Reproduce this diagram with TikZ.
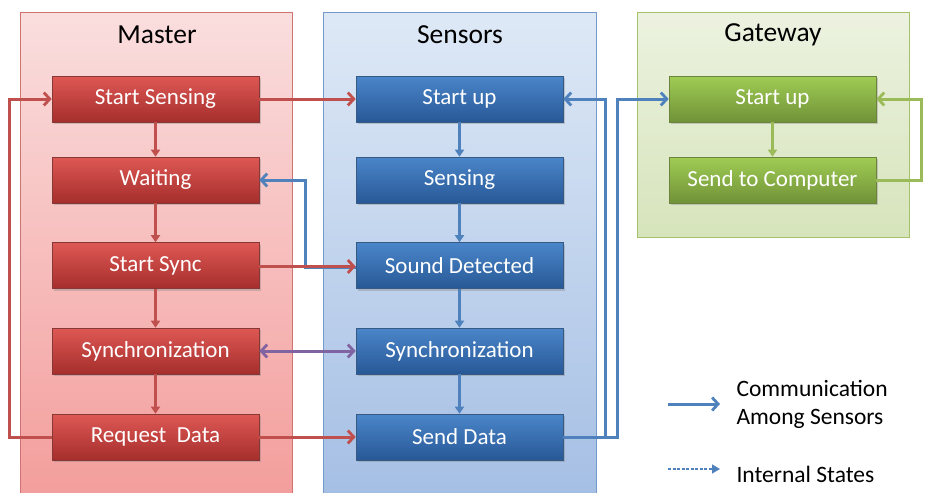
\documentclass[tikz,border=0pt]{standalone}
\usepackage{fontspec}
\setmainfont{Carlito}
\usetikzlibrary{arrows.meta,shadows}

\definecolor{mred}{RGB}{192,80,77}
\definecolor{mblue}{RGB}{79,129,189}
\definecolor{mgreen}{RGB}{155,187,89}
\definecolor{mpurple}{RGB}{128,100,162}

\tikzset{
  panel/.style={draw=#1, line width=1pt, anchor=north west, inner sep=0pt},
  title/.style={font=\fontsize{27.5}{30}\selectfont, text=black},
  statebox/.style={minimum width=207pt, minimum height=46pt, inner sep=0pt,
    draw=#1!70!black, line width=0.6pt, text=white,
    font=\fontsize{23}{26}\selectfont,
    drop shadow={shadow xshift=1.5pt, shadow yshift=-2pt, opacity=0.35}},
  rbox/.style={statebox=mred, top color={rgb,255:red,222;green,88;blue,84}, bottom color={rgb,255:red,165;green,46;blue,44}},
  bbox/.style={statebox=mblue, top color={rgb,255:red,74;green,134;blue,202}, bottom color={rgb,255:red,40;green,88;blue,150}},
  gbox/.style={statebox=mgreen, top color={rgb,255:red,160;green,204;blue,84}, bottom color={rgb,255:red,112;green,146;blue,56}},
  conn/.style={draw=#1, line width=3pt, -{Straight Barb[length=6pt,width=13pt,line width=2.8pt]}},
  inner/.style={draw=#1, line width=3pt, -{Triangle[length=7pt,width=9pt]}},
  legtext/.style={anchor=west, align=left, font=\fontsize{23.5}{28}\selectfont, text=black}
}

\begin{document}
\begin{tikzpicture}[x=1pt,y=-1pt]
\useasboundingbox (0,0) rectangle (930,493);

% column panels
\node[panel=mred!80, minimum width=272pt, minimum height=482pt,
  top color={rgb,255:red,250;green,222;blue,222}, bottom color={rgb,255:red,243;green,158;blue,156}]
  (mpanel) at (20,12) {};
\node[panel=mblue!80, minimum width=273pt, minimum height=482pt,
  top color={rgb,255:red,222;green,233;blue,246}, bottom color={rgb,255:red,165;green,191;blue,228}]
  (spanel) at (323,12) {};
\node[panel=mgreen!90, minimum width=272pt, minimum height=225pt,
  top color={rgb,255:red,236;green,242;blue,224}, bottom color={rgb,255:red,214;green,228;blue,187}]
  (gpanel) at (637,12) {};

\node[title] (mtitle) at (157,35) {Master};
\node[title] (stitle) at (460,35) {Sensors};
\node[title] (gtitle) at (773,35) {Gateway};

% master states
\node[rbox] (ss) at (155.5,99) {Start Sensing};
\node[rbox] (wt) at (155.5,180) {Waiting};
\node[rbox] (sy) at (155.5,265.5) {Start Sync};
\node[rbox] (ms) at (155.5,351) {Synchronization};
\node[rbox] (rd) at (155.5,437) {Request~ Data};

% sensor states
\node[bbox] (su) at (459.5,99) {Start up};
\node[bbox] (se) at (459.5,180) {Sensing};
\node[bbox] (sd) at (459.5,265.5) {Sound Detected};
\node[bbox] (ssy) at (459.5,351) {Synchronization};
\node[bbox] (snd) at (459.5,437) {Send Data};

% gateway states
\node[gbox] (gsu) at (772.5,99) {Start up};
\node[gbox] (gsc) at (772.5,180) {Send to Computer};

% internal transitions
\draw[inner=mred] (ss) -- (wt);
\draw[inner=mred] (wt) -- (sy);
\draw[inner=mred] (sy) -- (ms);
\draw[inner=mred] (ms) -- (rd);
\draw[inner=mblue] (su) -- (se);
\draw[inner=mblue] (se) -- (sd);
\draw[inner=mblue] (sd) -- (ssy);
\draw[inner=mblue] (ssy) -- (snd);
\draw[inner=mgreen] (gsu) -- (gsc);

% communication
\draw[conn=mblue] ([yshift=-1.5pt]sd.west) -- ++(-50,0) |- (wt.east);
\draw[conn=mred] (rd.west) -- ++(-42,0) |- (ss.west);
\draw[conn=mred] (ss.east) -- (su.west);
\draw[conn=mred] ([yshift=-1pt]sy.east) -- ([yshift=-1pt]sd.west);
\draw[conn=mpurple, {Straight Barb[length=6pt,width=13pt,line width=2.8pt]}-{Straight Barb[length=6pt,width=13pt,line width=2.8pt]}] (ms.east) -- (ssy.west);
\draw[conn=mred] (rd.east) -- (snd.west);
\draw[conn=mblue] (snd.east) -- ++(42,0) |- (su.east);
\draw[conn=mblue] (snd.east) -- ++(54,0) |- (gsu.west);
\draw[conn=mgreen] (gsc.east) -- ++(45,0) |- (gsu.east);

% legend
\coordinate (la1) at (668,404);
\coordinate (lb1) at (720,404);
\coordinate (la2) at (668,469);
\coordinate (lb2) at (720,469);
\draw[conn=mblue] (la1) -- (lb1);
\draw[draw=mblue, line width=1.5pt, dash pattern=on 3pt off 1.5pt, -{Triangle[length=8pt,width=9pt]}] (la2) -- (lb2);
\node[legtext] (leg1) at (733,404) {Communication\\Among Sensors};
\node[legtext] (leg2) at (733,474) {Internal States};
\end{tikzpicture}
\end{document}
